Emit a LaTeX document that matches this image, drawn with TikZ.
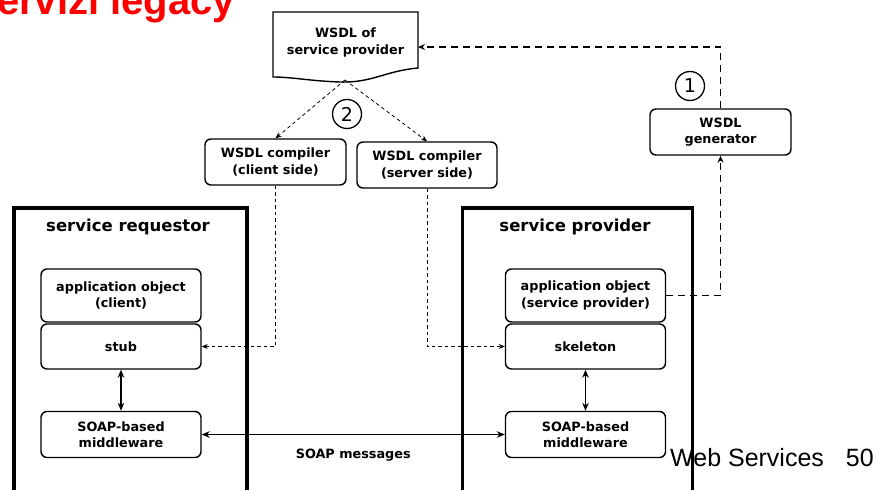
\documentclass[tikz,border=0pt]{standalone}
\usepackage{fontspec}
\setmainfont{DejaVu Sans}
\newfontfamily\arialfont{Liberation Sans}
\usetikzlibrary{arrows.meta}
\begin{document}
\begin{tikzpicture}[x=1pt,y=-1pt,
  box/.style={draw, line width=1.4pt, rounded corners=6pt, inner sep=0pt, align=center,
    font=\bfseries\fontsize{12.8}{16.5}\selectfont},
  bigbox/.style={draw, line width=3.5pt, inner sep=0pt, anchor=north west},
  header/.style={font=\bfseries\fontsize{16.5}{20}\selectfont},
  num/.style={draw, circle, line width=1.3pt, minimum size=29pt, inner sep=0pt,
    font=\fontsize{19}{19}\selectfont},
  thindash/.style={line width=0.8pt, dash pattern=on 3.5pt off 3pt, -{Stealth[length=6pt,width=5pt]}},
  thickdash/.style={line width=1.4pt, dash pattern=on 7pt off 5pt, -{Stealth[length=7pt,width=6pt]}},
  solidarrow/.style={line width=1.6pt, {Stealth[length=8pt,width=6.5pt]}-{Stealth[length=8pt,width=6.5pt]}},
  lbl/.style={font=\bfseries\fontsize{12.8}{15}\selectfont}
]
\useasboundingbox (0,0) rectangle (879,490);

% title
\node[anchor=base west, inner sep=0pt, text=red, font=\arialfont\bfseries\fontsize{40}{40}\selectfont] (title) at (-3,14) {ervizi legacy};

% WSDL document
\draw[line width=1.4pt, fill=white] (273,12) -- (418,12) -- (418,68)
  .. controls (385,71) and (372,83) .. (340,82)
  .. controls (310,81) and (292,77) .. (273,77) -- cycle;
\node[lbl, align=center, inner sep=0pt] (doc) at (345.5,42) {WSDL of\\[2pt]service provider};
\coordinate (docR) at (418,47);
\coordinate (docB) at (345,80);

% circled numbers
\node[num] (c2) at (347,114) {2};
\node[num] (c1) at (690,86) {1};

% compilers and generator
\node[box, minimum width=141pt, minimum height=46pt] (cc) at (275.5,162) {WSDL compiler\\(client side)};
\node[box, minimum width=140pt, minimum height=46pt] (cs) at (427,165) {WSDL compiler\\(server side)};
\node[box, minimum width=141pt, minimum height=46pt] (gen) at (720.5,132) {WSDL\\generator};

% service requestor
\node[bigbox, minimum width=233pt, minimum height=300pt] (req) at (12,206) {};
\node[header] (reqT) at (128,227) {service requestor};
\node[box, minimum width=160pt, minimum height=53pt] (appC) at (121,295.5) {application object\\(client)};
\node[box, minimum width=160pt, minimum height=45pt] (stub) at (121,346.5) {stub};
\node[box, minimum width=160pt, minimum height=46pt] (mwR) at (121,434.5) {SOAP-based\\middleware};

% service provider
\node[bigbox, minimum width=230pt, minimum height=300pt] (prov) at (460.5,206) {};
\node[header] (provT) at (575,227) {service provider};
\node[box, minimum width=160pt, minimum height=53pt] (appP) at (585.5,295.5) {application object\\(service provider)};
\node[box, minimum width=160pt, minimum height=45pt] (skel) at (585.5,346.5) {skeleton};
\node[box, minimum width=160pt, minimum height=46pt] (mwP) at (585.5,434.5) {SOAP-based\\middleware};

% connectors
\draw[thindash] (docB) -- (cc.north);
\draw[thindash] (docB) -- (cs.north);
\draw[thickdash] (gen.north) |- (docR);
\draw[thickdash] (appP.east) -| (gen.south);
\draw[thindash] (cc.south) |- (stub.east);
\draw[thindash] (cs.south) |- (skel.west);
\draw[solidarrow] (stub.south) -- (mwR.north);
\draw[solidarrow] (skel.south) -- (mwP.north);
\draw[solidarrow] (mwR.east) -- node[lbl, below=10pt] (soap) {SOAP messages} (mwP.west);

% footer
\node[anchor=base west, inner sep=0pt, font=\arialfont\fontsize{25}{25}\selectfont] (foot) at (670,466) {Web Services\hspace{22pt}50};
\end{tikzpicture}
\end{document}
